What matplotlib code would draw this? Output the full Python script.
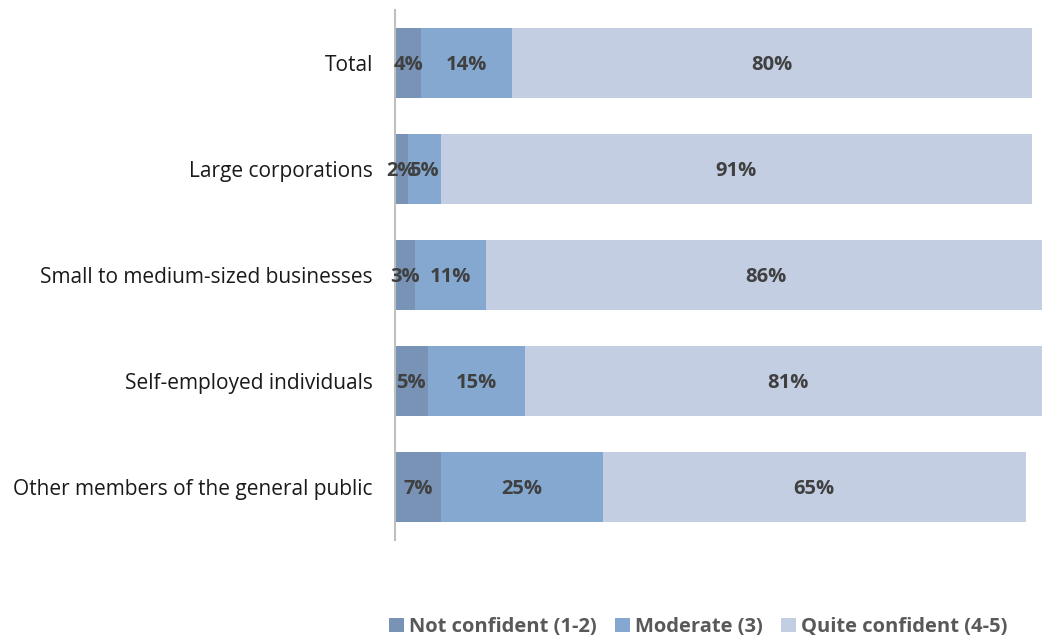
import matplotlib
matplotlib.use("Agg")
import matplotlib.pyplot as plt
import numpy as np

# survey groups, top to bottom
categories = [
    "Total",
    "Large corporations",
    "Small to medium-sized businesses",
    "Self-employed individuals",
    "Other members of the general public",
]
not_confident = [4, 2, 3, 5, 7]
moderate = [14, 5, 11, 15, 25]
quite_confident = [80, 91, 86, 81, 65]

series_names = ["Not confident (1-2)", "Moderate (3)", "Quite confident (4-5)"]
colors = ["#7893b6", "#84a8d0", "#c3cee3"]

plt.rcParams["font.family"] = ["Open Sans", "DejaVu Sans"]

fig = plt.figure(figsize=(10.42, 6.39), dpi=100)
ax = fig.add_axes([395 / 1042, 99 / 639, 650 / 1042, 530 / 639])

y = np.arange(len(categories))
left = np.zeros(len(categories))
handles = []
for name, vals, col in zip(series_names, [not_confident, moderate, quite_confident], colors):
    vals = np.array(vals, dtype=float)
    bars = ax.barh(y, vals, left=left, height=0.66, color=col, label=name)
    handles.append(bars)
    for yi, l, v in zip(y, left, vals):
        ax.text(l + v / 2, yi + 0.02, f"{int(v)}%", ha="center", va="center",
                fontsize=14.5, fontweight="bold", color="#404040")
    left += vals

ax.set_xlim(0, 100)
ax.set_ylim(len(categories) - 0.5, -0.5)
ax.set_yticks(y)
ax.set_yticklabels(categories, fontsize=15, color="#1a1a1a")
ax.tick_params(axis="y", length=0, pad=16)
ax.set_xticks([])
for side in ["top", "right", "bottom"]:
    ax.spines[side].set_visible(False)
ax.spines["left"].set_color("#bfbfbf")
ax.spines["left"].set_linewidth(1.5)

leg = fig.legend(handles=handles, labels=series_names, loc="center",
                 bbox_to_anchor=(698 / 1042, 1 - 627 / 639), ncol=3, frameon=False,
                 handlelength=0.75, handleheight=0.75, handletextpad=0.25, columnspacing=0.9,
                 prop={"size": 14.5, "weight": "bold"})
for t in leg.get_texts():
    t.set_color("#595959")

fig.savefig("out.png", dpi=100)
